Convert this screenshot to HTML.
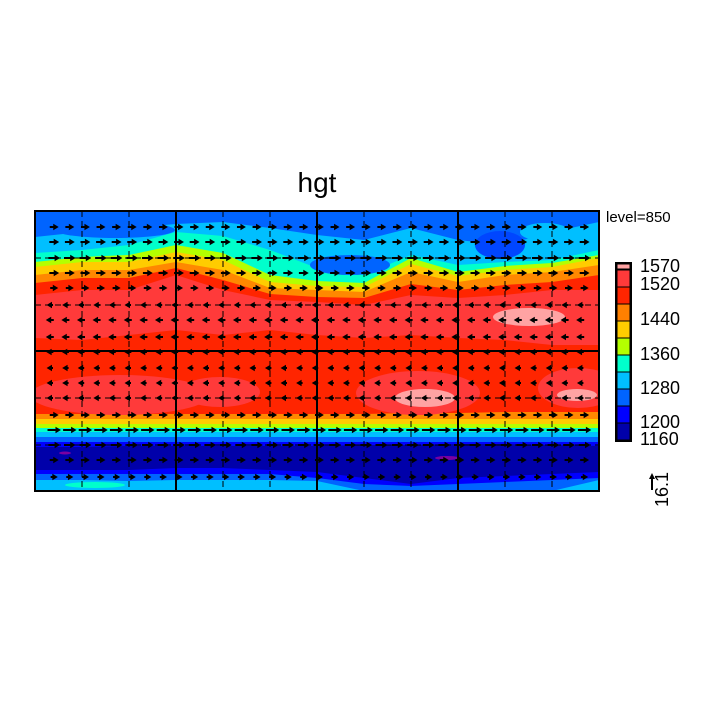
<!DOCTYPE html>
<html><head><meta charset="utf-8"><style>
html,body{margin:0;padding:0;background:#fff;}
svg{display:block;font-family:"Liberation Sans","DejaVu Sans",sans-serif;}
</style></head><body>
<svg id="chart" width="704" height="704" viewBox="0 0 704 704">
  <rect x="0" y="0" width="704" height="704" fill="#fff"/>
  <text x="317" y="192" font-size="28" text-anchor="middle">hgt</text>
  <text x="606" y="222" font-size="15">level=850</text>
  <defs><clipPath id="mapclip"><rect x="35" y="211" width="564" height="280"/></clipPath></defs>
  <g id="map" clip-path="url(#mapclip)"></g>
  <g id="grid"></g>
  <g id="vec"></g>
  <rect x="35" y="211" width="564" height="280" fill="none" stroke="#000" stroke-width="2"/>
  <g id="cbar"></g>
  <g>
    <line x1="652" y1="490" x2="652" y2="476" stroke="#000" stroke-width="2"/>
    <path d="M649,479 L652,473 L655,479 Z" fill="#000"/>
    <text x="668" y="507" font-size="18" transform="rotate(-90 668 507)">16.1</text>
  </g>
</svg>
<script>
// ---- data ----
const levelLabels = ["1570","1520","1440","1360","1280","1200","1160"];
const rowLat = [227,242,258,273,288,305,320,337,352,368,383,398,415,430,445,460,477];
const rowU = [5,6,8,6,4,-2,-4,-4,-3,-2,-2,-1,5,10,8,5,3];
const colCount = 35;

const NS="http://www.w3.org/2000/svg";
const map=document.getElementById('map');
const xs=[35,82,129,176,223,270,317,364,411,458,505,552,599];
function el(tag,attrs,parent){const e=document.createElementNS(NS,tag);for(const k in attrs)e.setAttribute(k,attrs[k]);parent.appendChild(e);return e;}
function band(top,bot,color,name){
  let d="M"+xs.map((x,i)=>x+","+top[i]).join(" L");
  for(let i=xs.length-1;i>=0;i--)d+=" L"+xs[i]+","+bot[i];
  const p=el('path',{d:d+"Z",fill:color},map);
  
  
}
function c(v){return xs.map(()=>v);}
const col={pink:'#ffa3a3',lred:'#ff3a3a',red:'#ff2500',or:'#ff8800',ye:'#ffcc00',li:'#b4ff00',aq:'#00ffcc',cy:'#00bfff',bl:'#0064ff',b2:'#0000ff',nv:'#0000aa'};
const base=el('rect',{x:35,y:211,width:564,height:280,fill:col.bl},map);

band([237,232,228,224,222,228,235,240,228,240,245,232,222],c(437),col.cy,'contour-1280');
band([253,250,245,232,236,250,268,275,255,265,262,260,250],c(432),col.aq,'contour-1360');
band([262,257,255,245,253,275,281,283,258,272,266,263,255],c(428),col.li,'contour-1400');
band([267,262,262,252,260,282,286,287,264,276,270,267,258],c(424),col.ye,'contour-1440');
band([275,270,270,262,270,288,290,292,272,282,275,272,265],c(419),col.or,'contour-1480');
band([283,278,278,268,280,294,297,298,284,290,285,282,275],[414,414,414,414,414,414,414,414,413,413,412,412,412],col.red,'contour-1520');
band([295,290,290,275,290,300,302,305,295,298,295,290,290],[338,340,335,330,335,330,335,338,335,338,340,345,345],col.lred,'contour-1545-north');
band(c(442),[474,474,474,474,474,474,478,484,486,484,482,480,478],col.b2,'contour-1200');
band([447,447,446,446,446,446,446,445,445,444,444,445,446],[470,470,470,468,468,470,472,478,484,478,476,474,472],col.nv,'contour-1160');
band([480,480,481,480,480,480,481,491,491,491,491,491,480],c(491),col.cy,'contour-1280-south');
function ell(cx,cy,rx,ry,f,n){const e=el('ellipse',{cx,cy,rx,ry,fill:f},map);}
ell(120,395,90,20,col.lred,'high-south-atlantic');
ell(220,392,40,15,col.lred,'high-indian');
ell(418,393,62,22,col.lred,'high-south-pacific');
ell(578,388,40,20,col.lred,'high-south-atlantic-east');
ell(529,317,36,9,col.pink,'max-north-atlantic');
ell(425,398,30,9,col.pink,'max-south-pacific');
ell(577,395,20,6,col.pink,'max-south-atlantic');
ell(350,265,40,10,col.bl,'low-north-pacific');
ell(115,230,60,8,col.bl,'low-north-eurasia');
ell(500,245,25,14,'#0046ff','low-north-america');
ell(545,232,25,9,col.cy,'cyan-greenland');
ell(95,485,30,3,col.aq,'aqua-south-patch');
ell(65,453,6,1.5,'#7a00a0','min-patch-1');
ell(447,458,12,2,'#7a00a0','min-patch-2');

const grid=document.getElementById('grid');
[82,129,223,270,364,411,505,552].forEach(x=>{const l=el('line',{x1:x,y1:211,x2:x,y2:491,stroke:'#000','stroke-width':1,'stroke-dasharray':'6,4'},grid);});
[176,317,458].forEach(x=>{const l=el('line',{x1:x,y1:211,x2:x,y2:491,stroke:'#000','stroke-width':2},grid);});
[258,305,398,445].forEach(y=>{const l=el('line',{x1:35,y1:y,x2:599,y2:y,stroke:'#000','stroke-width':1,'stroke-dasharray':'6,4'},grid);});
{const l=el('line',{x1:35,y1:351,x2:599,y2:351,stroke:'#000','stroke-width':2},grid);}

const vec=document.getElementById('vec');
rowLat.forEach((y,r)=>{
  const u=rowU[r];const L=Math.max(2,Math.abs(u)*0.9);const s=u>=0?1:-1;
  for(let i=0;i<colCount;i++){
    const x=52+i*15.6;
    const g=el('path',{d:`M${x-s*L/2},${y} L${x+s*L/2},${y} M${x+s*L/2},${y-1.5} L${x+s*(L/2+2.5)},${y} L${x+s*L/2},${y+1.5}Z`,stroke:'#000','stroke-width':2,fill:'#000'},vec);
    
    
  }
});

const cb=document.getElementById('cbar');
const cbColors=['#ffa3a3','#ff3a3a','#ff2500','#ff8000','#ffcc00','#b4ff00','#00ffcc','#00bfff','#0064ff','#0000ff','#0000aa'];
let yy=264;
cbColors.forEach((cc,i)=>{const h=i==0?5:17;const r=el('rect',{x:617,y:yy,width:13,height:h,fill:cc,stroke:'#000','stroke-width':1},cb);yy+=h+(i==0?1:0);});
{const r=el('rect',{x:616,y:263,width:15,height:178,fill:'none',stroke:'#000','stroke-width':2},cb);}
const labY=[272,290,325,360,394,428,445];
levelLabels.forEach((t,i)=>{const tx=el('text',{x:640,y:labY[i],'font-size':18},cb);tx.textContent=t;});
</script>
</body></html>
